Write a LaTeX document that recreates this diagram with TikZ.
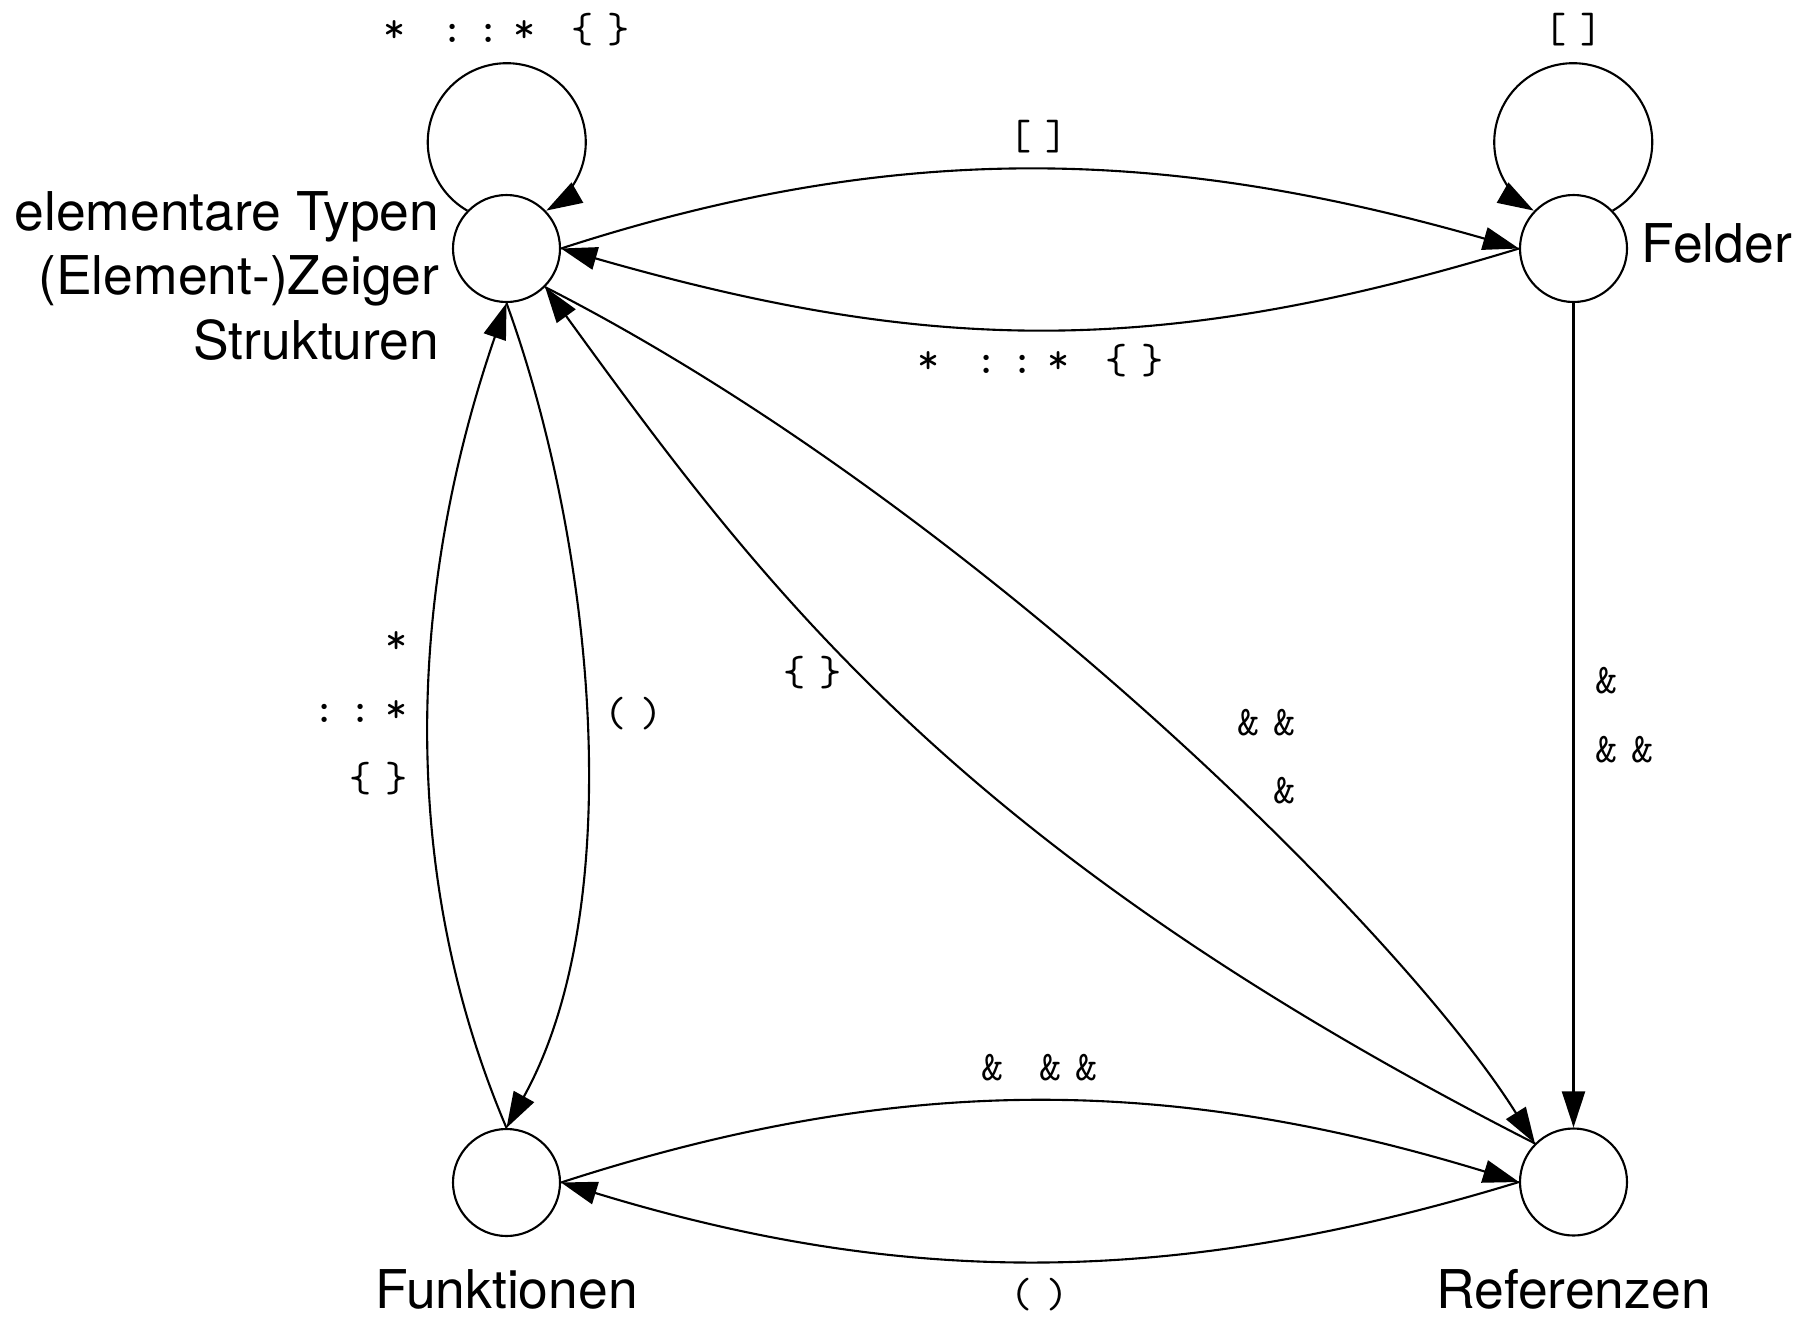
\documentclass[tikz,border=0pt]{standalone}
\usepackage{fontspec}
\setmainfont{TeX Gyre Heros}
\newfontfamily\codefont{lmmono10-regular}[Extension=.otf,LetterSpace=33]
\usetikzlibrary{arrows.meta,positioning}

\begin{document}
\begin{tikzpicture}[
    state/.style={draw, circle, minimum size=1.07cm, inner sep=0pt, line width=0.6pt},
    txt/.style={inner sep=0pt, font=\fontsize{15.2}{18.4}\selectfont},
    code/.style={inner sep=0pt, font=\codefont\fontsize{12}{19.5}\selectfont},
    arrow/.style={-{Triangle[length=3.6mm,width=2.3mm]}, line width=0.6pt},
  ]
  \useasboundingbox (0,0) rectangle (18.04,-13.16);

  % Zustaende
  \node[state] (elem) at (5.065,-2.485) {};
  \node[state] (feld) at (15.735,-2.485) {};
  \node[state] (funk) at (5.065,-11.825) {};
  \node[state] (ref)  at (15.735,-11.82) {};

  % Beschriftungen
  \node[txt, left=0.12cm of elem, yshift=-0.275cm, align=right] (elemTxt)
       {elementare Typen\\(Element-)Zeiger\\Strukturen};
  \node[txt, right=0.13cm of feld, yshift=0.05cm] (feldTxt) {Felder};
  \node[txt, below=0.32cm of funk] (funkTxt) {Funktionen};
  \node[txt, below=0.32cm of ref] (refTxt) {Referenzen};

  % Schleifen
  \draw[arrow] (elem.136) arc[start angle=240, end angle=-60, radius=0.79cm];
  \node[code, above=1.47cm of elem] (elemLoop) {* ::* \{\}};
  \draw[arrow] (feld.44) arc[start angle=-60, end angle=240, radius=0.79cm];
  \node[code, above=1.47cm of feld] (feldLoop) {[]};

  % Kanten
  \draw[arrow] (elem.east) to[out=18, in=164, distance=3.6cm]
       node[code, midway, yshift=0.33cm] (lblEF) {[]} (feld.west);
  \draw[arrow] (feld.west) to[out=197, in=-16, distance=3.8cm]
       node[code, midway, yshift=-0.31cm] (lblFE) {* ::* \{\}} (elem.east);
  \draw[arrow] (funk.north) to[out=113, in=251, distance=2.9cm]
       node[code, midway, anchor=east, xshift=-0.2cm, yshift=0.05cm, align=right] (lblFuE)
       {*\\::*\\\{\}} (elem.south);
  \draw[arrow] (elem.south) to[out=-70, in=61, distance=2.55cm]
       node[code, midway, xshift=0.48cm, yshift=0.08cm] (lblEFu) {()} (funk.north);
  \draw[arrow] (elem.south east) to[out=-27, in=122, out distance=4.8cm, in distance=2.5cm]
       node[code, midway, anchor=east, xshift=1.46cm, yshift=-0.39cm, align=right] (lblER)
       {\&\&\\\&} (ref.north west);
  \draw[arrow] (ref.north west) to[out=153, in=-54, out distance=6.5cm, in distance=3.7cm]
       node[code, midway, xshift=-0.92cm, yshift=0.44cm] (lblRE) {\{\}} (elem.south east);
  \draw[arrow] (feld) -- node[code, anchor=west, xshift=0.21cm, align=left] (lblFR)
       {\&\\\&\&} (ref);
  \draw[arrow] (funk.east) to[out=18, in=163, distance=3.6cm]
       node[code, midway, yshift=0.33cm] (lblFuR) {\& \&\&} (ref.west);
  \draw[arrow] (ref.west) to[out=197, in=-17, distance=3.6cm]
       node[code, midway, yshift=-0.33cm] (lblRFu) {()} (funk.east);
\end{tikzpicture}
\end{document}
